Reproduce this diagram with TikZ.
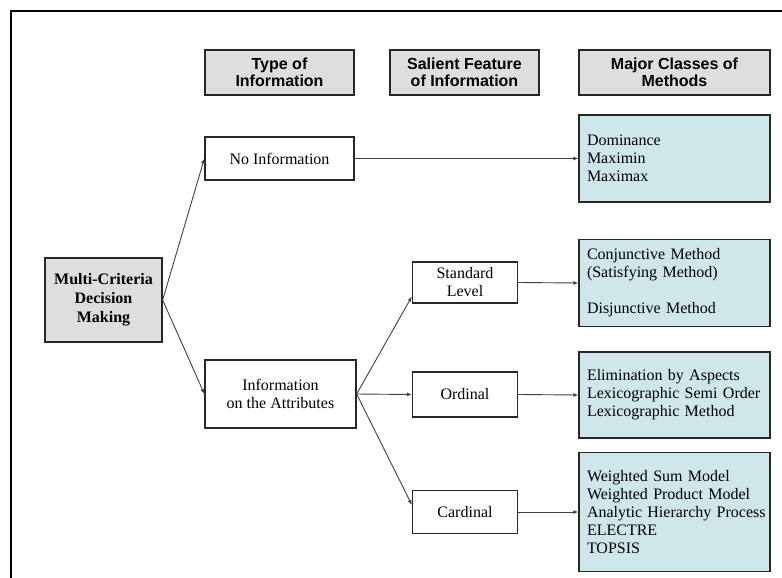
\documentclass[tikz,border=0pt]{standalone}
\usepackage{fontspec}
\setmainfont{Liberation Serif}
\newfontfamily\hdrfont{Liberation Sans}
\usetikzlibrary{arrows.meta}
\definecolor{hdrgray}{HTML}{DEDEDE}
\definecolor{methodfill}{HTML}{CFE7EB}
\begin{document}
\begin{tikzpicture}[x=1pt,y=-1pt,
  box/.style={draw=black!85, line width=1.3pt, inner sep=0pt, align=center,
    font=\fontsize{16}{18}\selectfont},
  hdr/.style={box, fill=hdrgray, minimum height=45pt,
    font=\hdrfont\bfseries\fontsize{16}{16.5}\selectfont},
  typebox/.style={box, fill=white},
  rootbox/.style={box, fill=hdrgray, minimum width=117pt, minimum height=84pt,
    font=\bfseries\fontsize{16}{19}\selectfont},
  methodbox/.style={box, fill=methodfill, align=left, text width=183pt,
    inner xsep=4pt, minimum width=191pt},
  conn/.style={draw=black!75, line width=0.9pt, -{Latex[length=5pt,width=4pt]}}
]
\useasboundingbox (0,0) rectangle (782,578);

% outer frame (top and left edges)
\draw[line width=1.6pt, line join=miter] (782,11) -- (11,11) -- (11,578);

% column headers
\node[hdr, minimum width=149pt] (hType) at (279.5,72.5) {Type of\\Information};
\node[hdr, minimum width=149pt] (hSal)  at (464.5,72.5) {Salient Feature\\of Information};
\node[hdr, minimum width=191pt] (hMaj)  at (674.5,72.5) {Major Classes of\\Methods};

% root
\node[rootbox] (mcdm) at (103.5,300) {Multi-Criteria\\Decision\\Making};

% type of information
\node[typebox, minimum width=149pt, minimum height=43pt] (noinfo) at (279.5,158.5) {No Information};
\node[typebox, minimum width=151pt, minimum height=68pt] (attr) at (280.5,394) {Information\\on the Attributes};

% salient features
\node[typebox, minimum width=105pt, minimum height=41pt] (std)  at (465,282.5) {Standard\\Level};
\node[typebox, minimum width=105pt, minimum height=45pt] (ord)  at (465,394.5) {Ordinal};
\node[typebox, minimum width=105pt, minimum height=43pt] (card) at (465,512) {Cardinal};

% method classes (ragged right, no hyphenation)
\node[methodbox, minimum height=87pt] (dom) at (674.5,158.5)
  {\hspace*{4pt}Dominance\\\hspace*{4pt}Maximin\\\hspace*{4pt}Maximax};
\node[methodbox, minimum height=87pt] (conj) at (674.5,283)
  {\hspace*{4pt}Conjunctive Method\\\hspace*{4pt}(Satisfying Method)\\[18pt]\hspace*{4pt}Disjunctive Method};
\node[methodbox, minimum height=86pt] (elim) at (674.5,395)
  {\hspace*{4pt}Elimination by Aspects\\\hspace*{4pt}Lexicographic Semi Order\\\hspace*{4pt}Lexicographic Method};
\node[methodbox, minimum height=119pt] (wsum) at (674.5,512)
  {\hspace*{4pt}Weighted Sum Model\\\hspace*{4pt}Weighted Product Model\\\hspace*{4pt}Analytic Hierarchy Process\\\hspace*{4pt}ELECTRE\\\hspace*{4pt}TOPSIS};

% connectors
\draw[conn] (mcdm.east) -- (noinfo.west);
\draw[conn] (mcdm.east) -- (attr.west);
\draw[conn] (noinfo.east) -- (dom.west);
\draw[conn] (attr.east) -- ([yshift=-14pt]std.west);
\draw[conn] (attr.east) -- (ord.west);
\draw[conn] (attr.east) -- ([yshift=7pt]card.west);
\draw[conn] (std.east) -- (conj.west);
\draw[conn] (ord.east) -- (elim.west);
\draw[conn] (card.east) -- (wsum.west);
\end{tikzpicture}
\end{document}
